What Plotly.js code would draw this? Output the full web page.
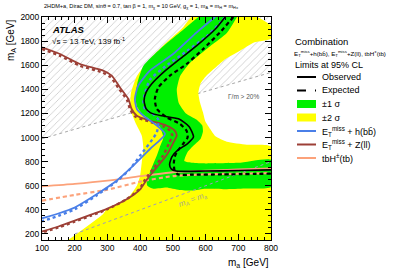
<!DOCTYPE html>
<html><head><meta charset="utf-8">
<script src="https://cdn.plot.ly/plotly-3.0.1.min.js"></script>
<style>html,body{margin:0;padding:0;background:#fff}</style>
</head><body><div id="chart" style="width:407px;height:275px"></div>
<script>
// ---- data (m_a, m_A in GeV) ----
const hatchMa = [100, 800, 800, 100];
const hatchMA = [990, 1540, 2000, 2000];
const widthLineMa = [100, 800];
const widthLineMA = [990, 1540];
const diagMa = [200, 800];
const diagMA = [200, 800];

const yellowMa = [180,287,298,359,390,400,405,410,405,385,370,372,390,430,481,530,558,757,800,800,750,705,660,634,605,585,578,583,592,600,614,630,665,726,800,800];
const yellowMA = [150,366,407,490,601,684,795,905,1015,1126,1240,1370,1510,1652,1790,1910,2000,2000,1925,1820,1790,1720,1650,1590,1520,1450,1370,1290,1210,1130,1070,1010,965,940,925,150];

const greenMa = [578,522,461,410,392,386,390,405,430,458,471,460,451,440,430,420,422,440,480,520,560,600,660,720,800,800,700,600,560,535,545,570,585,592,590,573,540,518,512,522,552,614,665,696];
const greenMA = [2000,1873,1735,1596,1458,1330,1260,1200,1150,1100,1000,920,850,780,712,640,600,575,585,565,560,575,572,578,590,815,790,785,790,805,880,950,990,1050,1100,1148,1200,1287,1397,1508,1618,1757,1867,2000];

const obsMa = [660,630,573,522,471,435,418,412,418,432,465,517,550,563,545,515,497,490,495,510,600,700,800];
const obsMA = [2000,1900,1762,1652,1541,1444,1375,1306,1240,1205,1180,1155,1090,1005,950,895,840,775,740,722,722,726,732];

const expMa = [685,644,593,542,491,456,445,451,481,522,542,545,532,515,507,503,505,515,560,650,800];
const expMA = [2000,1873,1735,1610,1513,1417,1320,1237,1168,1112,1057,1000,950,890,850,790,730,695,692,694,700];

const hbbObsMa = [629,573,501,430,394,384,390,410,445,476,430,379,328,267,200,150,100];
const hbbObsMA = [2000,1873,1693,1555,1430,1320,1237,1181,1112,1030,905,767,642,530,420,370,330];

const hbbExpMa = [660,644,603,542,471,430,415,410,415,435,455,451,400,369,330,267,200,150,100];
const hbbExpMA = [2000,1950,1840,1716,1577,1480,1370,1300,1231,1204,1150,1044,850,739,640,520,405,350,305];

const zllObsMa = [100,155,216,287,313,338,364,374,390,430,480,505,512,500,480,450,420,400,360,300,250,200,150,100];
const zllObsMA = [1749,1693,1610,1555,1513,1417,1320,1237,1181,1140,1100,1060,1020,950,850,750,650,570,490,410,360,310,262,220];

const zllExpMa = [100,155,216,285,310,335,360,370,385,425,470,492,498,488,470,442,415,397,358,300,250,200,150,100];
const zllExpMA = [1735,1678,1596,1540,1500,1405,1310,1230,1175,1135,1095,1055,1015,950,850,750,650,570,488,405,352,302,254,212];

const tbhObsMa = [100,200,300,400,500,600,700,800];
const tbhObsMA = [595,615,642,679,712,725,735,745];
const tbhExpMa = [100,200,300,400,500,600,700,800];
const tbhExpMA = [476,524,567,634,680,695,700,705];

// ---- colours ----
const C_YEL = '#ffff00', C_GRN = '#00f000', C_BLUE = '#4a7fe8', C_BROWN = '#9c3f36', C_SALMON = '#fca27a';
const FONT = 'Liberation Sans, Arial, Helvetica, sans-serif';

const X0 = 42, X1 = 271, YT = 17, YB = 240;
const px = v => (v - X0) / (X1 - X0);
const py = v => (YB - v) / (YB - YT);

function line(x, y, color, width, dash) {
  return {x, y, mode: 'lines', line: {color, width, dash: dash || 'solid', shape: 'spline', smoothing: 0.6}, hoverinfo: 'skip'};
}

const traces = [
  {x: hatchMa, y: hatchMA, mode: 'none', fill: 'toself', fillcolor: 'rgba(255,255,255,0)',
   fillpattern: {shape: '/', fgcolor: '#b8b8b8', bgcolor: 'rgba(255,255,255,0)', size: 5, solidity: 0.12}, hoverinfo: 'skip'},
  {x: widthLineMa, y: widthLineMA, mode: 'lines', line: {color: '#a8a8a8', width: 1, dash: 'dot'}, hoverinfo: 'skip'},
  {x: yellowMa, y: yellowMA, mode: 'lines', fill: 'toself', fillcolor: C_YEL, line: {width: 0, color: C_YEL, shape: 'spline', smoothing: 0.5}, hoverinfo: 'skip'},
  {x: greenMa, y: greenMA, mode: 'lines', fill: 'toself', fillcolor: C_GRN, line: {width: 0, color: C_GRN, shape: 'spline', smoothing: 0.5}, hoverinfo: 'skip'},
  {x: diagMa, y: diagMA, mode: 'lines', line: {color: '#9a9ac0', width: 1, dash: 'dot'}, hoverinfo: 'skip'},
  line(tbhExpMa, tbhExpMA, C_SALMON, 2.2, '4px,3px'),
  line(tbhObsMa, tbhObsMA, C_SALMON, 1.8),
  line(zllExpMa, zllExpMA, C_BROWN, 2.4, '3px,3px'),
  line(zllObsMa, zllObsMA, C_BROWN, 1.8),
  line(hbbExpMa, hbbExpMA, C_BLUE, 2.4, '3px,3px'),
  line(hbbObsMa, hbbObsMA, C_BLUE, 1.8),
  line(expMa, expMA, '#000', 2.2, '4px,3px'),
  line(obsMa, obsMA, '#000', 1.6)
];

const legendItems = [
  {label: 'Observed', type: 'line', color: '#000', dash: 'solid', y: 77},
  {label: 'Expected', type: 'line', color: '#000', dash: 'dash', y: 90.5},
  {label: '±1 σ', type: 'box', color: C_GRN, y: 104},
  {label: '±2 σ', type: 'box', color: C_YEL, y: 117.5},
  {label: 'E<sub>T</sub><sup>miss</sup> + h(bb̄)', type: 'line', color: C_BLUE, dash: 'solid', y: 131},
  {label: 'E<sub>T</sub><sup>miss</sup> + Z(ll)', type: 'line', color: C_BROWN, dash: 'solid', y: 144.5},
  {label: 'tbH<sup>±</sup>(tb)', type: 'line', color: C_SALMON, dash: 'solid', y: 158}
];

const shapes = [], annotations = [];
legendItems.forEach(it => {
  if (it.type === 'line') {
    shapes.push({type: 'line', xref: 'paper', yref: 'paper', x0: px(297), x1: px(316), y0: py(it.y), y1: py(it.y),
      line: {color: it.color, width: 2, dash: it.dash}});
  } else {
    shapes.push({type: 'rect', xref: 'paper', yref: 'paper', x0: px(297), x1: px(316), y0: py(it.y + 4), y1: py(it.y - 4),
      fillcolor: it.color, line: {width: 0}});
  }
  annotations.push({xref: 'paper', yref: 'paper', x: px(320), y: py(it.y), xanchor: 'left', yanchor: 'middle',
    text: it.label, showarrow: false, font: {size: 9, family: FONT, color: '#000'}});
});

function txt(x, y, text, size, extra) {
  return Object.assign({xref: 'paper', yref: 'paper', x: px(x), y: py(y), xanchor: 'left', yanchor: 'middle', text, showarrow: false,
    font: {size, family: FONT, color: '#000'}}, extra || {});
}

annotations.push(
  txt(293, 41, 'Combination', 9.5),
  txt(292, 53, 'E<sub>T</sub><sup>miss</sup>+h(bb̄), E<sub>T</sub><sup>miss</sup>+Z(ll), tbH<sup>±</sup>(tb)', 6.2),
  txt(293, 65, 'Limits at 95% CL', 9),
  txt(42, 6, '2HDM+a, Dirac DM, sinθ = 0.7, tan β = 1, m<sub>χ</sub> = 10 GeV, g<sub>χ</sub> = 1, m<sub>A</sub> = m<sub>H</sub> = m<sub>H±</sub>', 5.6),
  txt(50, 29, '<b><i>ATLAS</i></b>', 9.5),
  txt(50, 41, '√s = 13 TeV, 139 fb<sup>-1</sup>', 8),
  {xref: 'paper', yref: 'paper', x: 1, y: py(263), xanchor: 'right', yanchor: 'middle', text: 'm<sub>a</sub> [GeV]', showarrow: false, font: {size: 10, family: FONT, color: '#000'}},
  {xref: 'paper', yref: 'paper', x: px(11), y: 1, xanchor: 'center', yanchor: 'top', textangle: -90, text: 'm<sub>A</sub> [GeV]', showarrow: false, font: {size: 10, family: FONT, color: '#000'}},
  {x: 717, y: 1341, text: 'Γ/m > 20%', showarrow: false, font: {size: 6.5, family: FONT, color: '#555'}},
  {x: 561, y: 483, text: '<i>m<sub>A</sub> = m<sub>a</sub></i>', textangle: -20, showarrow: false, font: {size: 8, family: FONT, color: '#a8a890'}}
);

const axisCommon = {
  ticks: 'inside', ticklen: 6, tickwidth: 1, tickcolor: '#000', mirror: 'allticks', showline: true, linecolor: '#000', linewidth: 1,
  showgrid: false, zeroline: false, tickfont: {size: 8.5, family: FONT, color: '#000'}
};

const layout = {
  width: 407, height: 275,
  margin: {l: X0, r: 407 - X1, t: YT, b: 275 - YB},
  paper_bgcolor: '#fff', plot_bgcolor: '#fff', showlegend: false,
  font: {family: FONT, color: '#000'},
  xaxis: Object.assign({}, axisCommon, {range: [100, 800], tick0: 100, dtick: 100,
    minor: {ticks: 'inside', ticklen: 3, tickcolor: '#000', dtick: 20, tick0: 100, showgrid: false}}),
  yaxis: Object.assign({}, axisCommon, {range: [150, 2000], tick0: 200, dtick: 200,
    minor: {ticks: 'inside', ticklen: 3, tickcolor: '#000', dtick: 50, tick0: 200, showgrid: false}}),
  shapes, annotations
};

Plotly.newPlot('chart', traces, layout, {staticPlot: true, displayModeBar: false});
</script>
</body></html>
